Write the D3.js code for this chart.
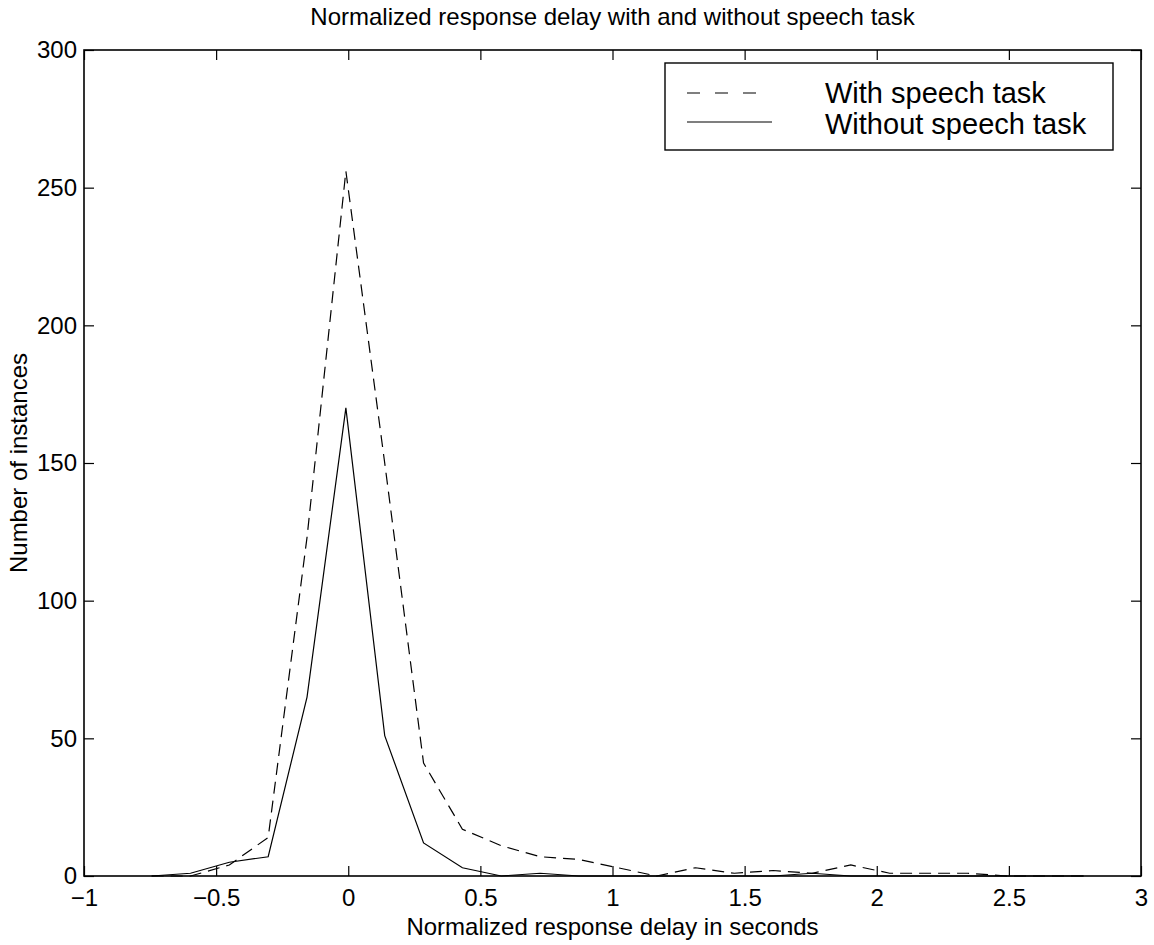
<!DOCTYPE html>
<html lang="en">

<head>
    <meta charset="UTF-8">
    <title>Normalized response delay</title>
    <script src="https://d3js.org/d3.v7.min.js"></script>
    <style>
        body { margin: 0; background: #fff; }
        svg text { font-family: "Liberation Sans", Arial, Helvetica, sans-serif; fill: #000; }
    </style>
</head>

<body>
    <div id="chart"></div>

    <script>
        // bin centres (seconds)
        const delays = [-0.744, -0.597, -0.450, -0.303, -0.156, -0.009, 0.138, 0.285, 0.432, 0.579,
            0.726, 0.873, 1.020, 1.167, 1.314, 1.461, 1.608, 1.755, 1.902, 2.049,
            2.196, 2.343, 2.490, 2.637, 2.784];
        // counts per bin
        const withSpeech = [0, 0, 4, 14, 123, 256, 150, 41, 17, 11,
            7, 6, 3, 0, 3, 1, 2, 1, 4, 1,
            1, 1, 0, 0, 0];
        const withoutSpeech = [0, 1, 5, 7, 65, 170, 51, 12, 3, 0,
            1, 0, 0, 0, 0, 0, 0, 1, 0, 0,
            0, 0, 0, 0, 0];
        const xTicks = [-1, -0.5, 0, 0.5, 1, 1.5, 2, 2.5, 3];
        const yTicks = [0, 50, 100, 150, 200, 250, 300];
        const legendLabels = ["With speech task", "Without speech task"];

        const W = 1154, H = 945;
        const margin = { top: 50, right: 13, bottom: 69, left: 84 };
        const width = W - margin.left - margin.right;
        const height = H - margin.top - margin.bottom;

        const svg = d3.select("#chart").append("svg")
            .attr("width", W)
            .attr("height", H);

        const g = svg.append("g")
            .attr("transform", "translate(" + margin.left + "," + margin.top + ")");

        const x = d3.scaleLinear().domain([-1, 3]).range([0, width]);
        const y = d3.scaleLinear().domain([0, 300]).range([height, 0]);

        // axes, ticks pointing inwards like matlab
        const fmt = d3.format("");
        g.append("g")
            .attr("transform", "translate(0," + height + ")")
            .call(d3.axisBottom(x).tickValues(xTicks).tickFormat(fmt).tickSizeInner(-10).tickSizeOuter(0).tickPadding(13));
        g.append("g")
            .call(d3.axisLeft(y).tickValues(yTicks).tickFormat(fmt).tickSizeInner(-10).tickSizeOuter(0).tickPadding(7));
        g.append("g")
            .call(d3.axisTop(x).tickValues(xTicks).tickFormat("").tickSizeInner(-10).tickSizeOuter(0));
        g.append("g")
            .attr("transform", "translate(" + width + ",0)")
            .call(d3.axisRight(y).tickValues(yTicks).tickFormat("").tickSizeInner(-10).tickSizeOuter(0));

        g.selectAll(".domain").remove();
        g.selectAll(".tick line").attr("stroke", "#000").attr("stroke-width", 1.2);
        g.selectAll(".tick text").style("font-size", "24px");

        // frame
        g.append("rect")
            .attr("width", width)
            .attr("height", height)
            .attr("fill", "none")
            .attr("stroke", "#000")
            .attr("stroke-width", 1.6);

        const line = d3.line()
            .x((d, i) => x(delays[i]))
            .y(d => y(d));

        g.append("path")
            .datum(withSpeech)
            .attr("fill", "none")
            .attr("stroke", "#000")
            .attr("stroke-width", 1.2)
            .attr("stroke-dasharray", "12,7")
            .attr("d", line);

        g.append("path")
            .datum(withoutSpeech)
            .attr("fill", "none")
            .attr("stroke", "#000")
            .attr("stroke-width", 1.2)
            .attr("d", line);

        // legend
        const legend = svg.append("g").attr("transform", "translate(665,63)");
        legend.append("rect")
            .attr("width", 448)
            .attr("height", 87)
            .attr("fill", "#fff")
            .attr("stroke", "#000")
            .attr("stroke-width", 1.4);
        legend.append("line")
            .attr("x1", 22).attr("x2", 94)
            .attr("y1", 30).attr("y2", 30)
            .attr("stroke", "#000").attr("stroke-width", 1.2)
            .attr("stroke-dasharray", "13,15");
        legend.append("line")
            .attr("x1", 22).attr("x2", 107)
            .attr("y1", 59).attr("y2", 59)
            .attr("stroke", "#000").attr("stroke-width", 1.2);
        legend.selectAll("text.lbl")
            .data(legendLabels)
            .enter().append("text")
            .attr("class", "lbl")
            .attr("x", 160)
            .attr("y", (d, i) => 40 + i * 31)
            .style("font-size", "29px")
            .text(d => d);

        // titles
        svg.append("text")
            .attr("x", margin.left + width / 2)
            .attr("y", 25)
            .attr("text-anchor", "middle")
            .style("font-size", "24px")
            .text("Normalized response delay with and without speech task");

        svg.append("text")
            .attr("x", margin.left + width / 2)
            .attr("y", 935)
            .attr("text-anchor", "middle")
            .style("font-size", "24px")
            .text("Normalized response delay in seconds");

        svg.append("text")
            .attr("transform", "translate(27," + (margin.top + height / 2) + ") rotate(-90)")
            .attr("text-anchor", "middle")
            .style("font-size", "24px")
            .text("Number of instances");
    </script>
</body>

</html>
